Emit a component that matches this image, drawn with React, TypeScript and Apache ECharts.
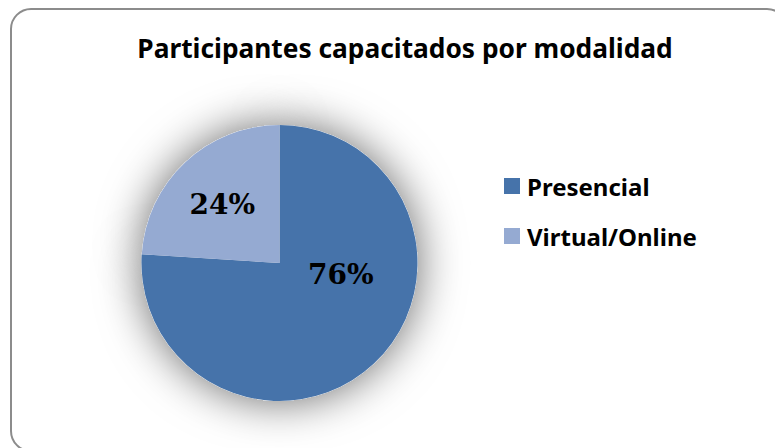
import React, { useEffect, useRef } from "react";
import * as echarts from "echarts";

const categories = ["Presencial", "Virtual/Online"];
const values = [76, 24];
const colors = ["#4673AA", "#95AAD2"];
const title = "Participantes capacitados por modalidad";

export default function App() {
  const ref = useRef<HTMLDivElement>(null);
  useEffect(() => {
    if (!ref.current) return;
    const chart = echarts.init(ref.current, null, { renderer: "svg" });
    const data = categories.map((name, i) => ({ name, value: values[i] }));
    const labelOffsets = [
      [12, -41],
      [-8, -6],
    ];
    chart.setOption({
      animation: false,
      backgroundColor: "#ffffff",
      title: {
        text: title,
        left: 400,
        textAlign: "center",
        top: 30,
        textStyle: {
          fontFamily: "Noto Sans",
          fontWeight: "bold",
          fontSize: 26.3,
          color: "#000",
        },
      },
      legend: {
        orient: "vertical",
        left: 504,
        top: 174,
        padding: 0,
        itemWidth: 16,
        itemHeight: 16,
        itemGap: 26,
        icon: "rect",
        data: categories,
        textStyle: {
          fontFamily: "Noto Sans",
          fontWeight: "bold",
          fontSize: 24,
          lineHeight: 24,
          color: "#000",
          padding: [0, 0, 0, 2],
        },
      },
      graphic: [
        {
          type: "rect",
          shape: { x: 11, y: 9, width: 776, height: 442, r: 20 },
          style: { fill: "none", stroke: "#8c8c8c", lineWidth: 2 },
          z: 100,
          silent: true,
        },
      ],
      series: [
        {
          type: "pie",
          center: [279.5, 263],
          radius: 138,
          startAngle: 90,
          clockwise: true,
          z: 2,
          data,
          color: colors,
          itemStyle: { borderWidth: 0 },
          label: {
            show: true,
            position: "inside",
            formatter: (p: any) => `${p.value}%`,
            fontFamily: "DejaVu Serif",
            fontWeight: "bold",
            fontSize: 28,
            color: "#000",
          },
          labelLayout: (p: any) => ({
            dx: labelOffsets[p.dataIndex][0],
            dy: labelOffsets[p.dataIndex][1],
          }),
          labelLine: { show: false },
        },
        {
          type: "pie",
          center: [279.5, 263],
          radius: 138,
          startAngle: 90,
          clockwise: true,
          silent: true,
          z: 1,
          label: { show: false },
          labelLine: { show: false },
          data,
          itemStyle: {
            color: "#ffffff",
            shadowBlur: 45,
            shadowColor: "rgba(0,0,0,0.6)",
          },
          legendHoverLink: false,
        },
      ],
    });
    return () => chart.dispose();
  }, []);
  return (
    <div
      ref={ref}
      style={{ position: "fixed", left: 0, top: 0, width: 775, height: 448 }}
    />
  );
}
